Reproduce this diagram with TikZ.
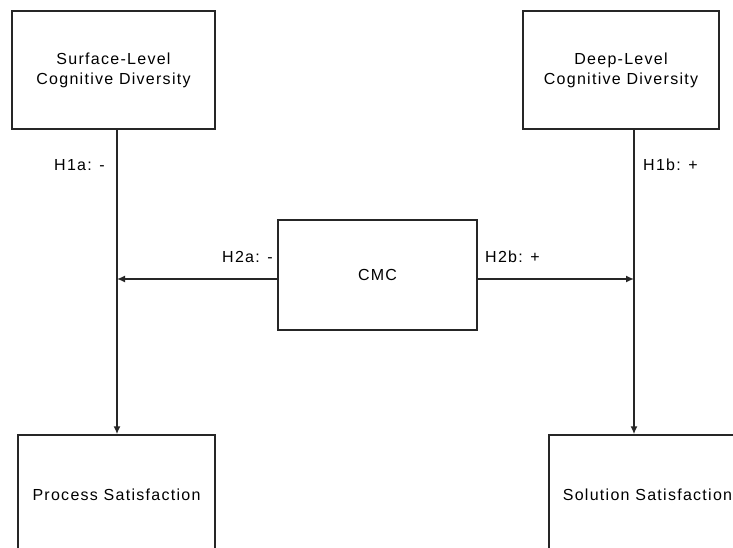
\documentclass[tikz,border=0pt]{standalone}
\usepackage{fontspec}
\setmainfont{Liberation Sans}[LetterSpace=8]
\usetikzlibrary{arrows.meta}
\tikzset{
  box/.style={draw=black!85, line width=1.5pt, fill=white, inner sep=0pt, align=center,
    font=\fontsize{16}{20}\selectfont},
  lbl/.style={font=\fontsize{16}{20}\selectfont, inner sep=0pt},
  conn/.style={draw=black!85, line width=1.5pt},
  arr/.style={conn, -{Latex[length=8pt,width=7pt]}}
}
\begin{document}
\begin{tikzpicture}[x=1pt,y=-1pt]
\useasboundingbox (0,0) rectangle (733,548);
\clip (0,0) rectangle (733,548);
\fill[white] (0,0) rectangle (733,548);
\node[box, minimum width=203pt, minimum height=118pt] (sl) at (113.5,70) {Surface-Level\\Cognitive Diversity};
\node[box, minimum width=196pt, minimum height=118pt] (dl) at (621,70) {Deep-Level\\Cognitive Diversity};
\node[box, minimum width=199pt, minimum height=110pt] (cmc) at (377.5,275) {CMC};
\node[box, minimum width=197pt, minimum height=120pt] (ps) at (116.5,495) {Process Satisfaction};
\node[box, minimum width=197pt, minimum height=120pt] (ss) at (647.5,495) {Solution Satisfaction};
\coordinate (lx) at (117,0);
\coordinate (rx) at (634,0);
\coordinate (ay) at (0,279);
\draw[arr] (sl.south -| lx) -- (ps.north -| lx);
\draw[arr] (dl.south -| rx) -- (ss.north -| rx);
\draw[arr] (cmc.west |- ay) -- (lx |- ay);
\draw[arr] (cmc.east |- ay) -- (rx |- ay);
\node[lbl, anchor=east] (h1a) at (105,165) {H1a: -};
\node[lbl, anchor=west] (h1b) at (643,165) {H1b: +};
\node[lbl, anchor=east] (h2a) at (273,257) {H2a: -};
\node[lbl, anchor=west] (h2b) at (485,257) {H2b: +};
\end{tikzpicture}
\end{document}
